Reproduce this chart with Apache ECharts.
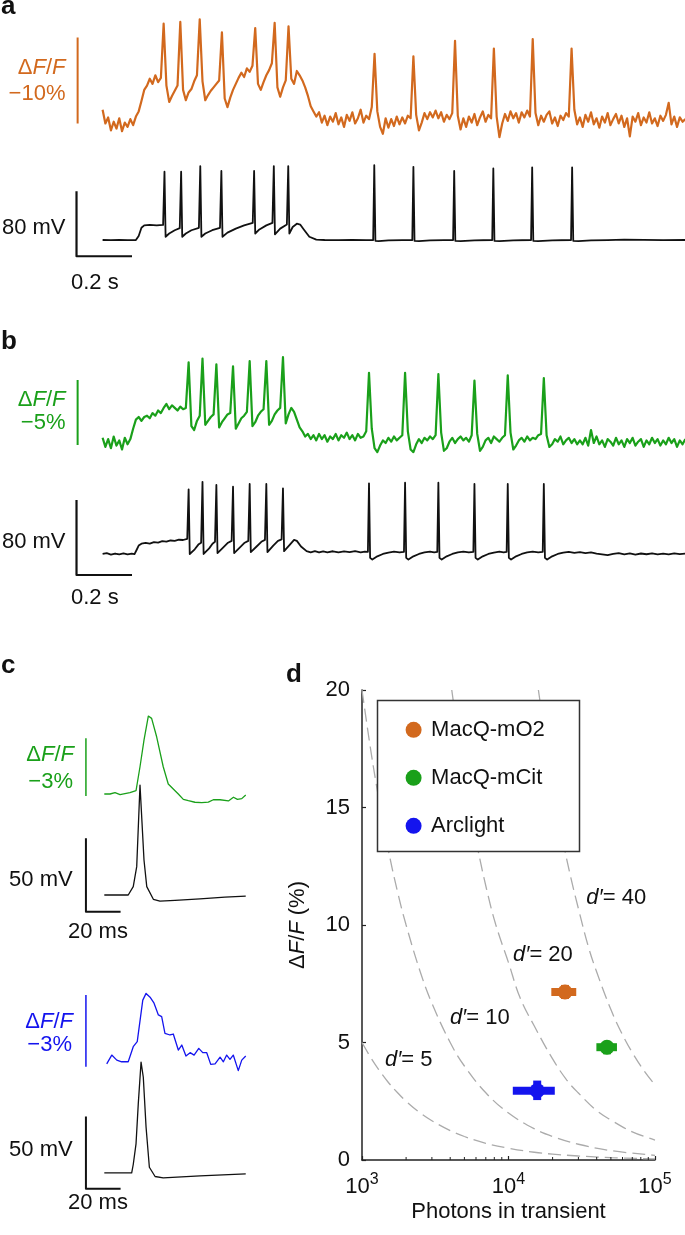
<!DOCTYPE html>
<html><head><meta charset="utf-8">
<script src="https://cdn.jsdelivr.net/npm/echarts/dist/echarts.min.js"></script>
<style>html,body{margin:0;padding:0;background:#fff}#c{width:685px;height:1235px}</style>
</head><body><div id="c"></div>
<script>
// ---------------- DATA ----------------
const tStepMs = 10; // sampling of the fluorescence traces in panels a, b (ms)
// Panel a: MacQ-mO2, -dF/F (%) sampled every 10 ms, t = 0 .. 2100 ms
const orangeDFF = [
 1.2,-0.4,0.3,-1.2,-0.2,-1.0,0.2,-1.3,-0.3,-0.8,
 0.1,-0.6,0.4,1.0,2.2,3.5,4.0,4.8,4.2,5.2,
 4.4,4.9,11.2,4.0,2.1,2.8,3.4,4.0,11.4,3.5,
 2.3,3.2,3.6,4.5,5.2,11.7,4.5,2.3,2.9,3.4,
 3.8,4.2,4.6,10.2,2.5,1.5,2.6,3.5,4.2,4.9,
 5.5,5.0,6.0,5.6,6.3,10.7,4.2,3.5,4.4,5.2,
 5.8,6.6,11.3,3.8,2.7,3.8,4.6,10.9,4.8,4.2,
 5.7,5.2,4.6,3.8,2.8,1.6,1.0,0.4,0.9,-0.3,
 0.5,-0.6,0.4,-0.2,0.8,-0.5,0.3,-0.8,0.6,-0.1,
 0.9,-0.4,0.2,1.2,-0.3,0.5,0.1,1.5,7.7,1.0,
 -0.8,-1.6,0.2,-0.9,0.1,-0.7,0.4,-0.5,0.3,-0.4,
 0.5,0.2,7.4,0.6,-1.2,-0.3,0.8,0.1,0.9,0.3,
 1.1,0.2,0.9,-0.2,0.6,0.1,0.8,9.2,0.5,-1.1,
 0.2,-0.8,0.4,-0.3,0.7,-0.6,0.3,1.0,-0.2,0.6,
 0.2,8.3,0.4,-2.0,-0.4,0.7,-0.1,1.0,0.2,0.8,
 -0.3,0.9,0.3,1.1,0.4,9.4,0.8,-0.6,0.5,-0.2,
 0.6,1.0,-0.4,0.3,-0.7,0.5,0.0,0.8,0.4,8.3,
 1.2,-0.5,0.3,-0.8,0.6,-0.2,0.9,-0.5,0.2,-0.9,
 0.4,-0.3,0.8,-0.6,0.1,0.7,-0.4,0.5,-0.8,0.2,
 -1.9,0.4,-0.2,0.8,-0.6,0.3,-0.3,0.9,-0.4,0.2,
 -0.7,0.5,-0.1,0.6,2.0,-0.5,0.4,-0.8,0.3,-0.2,
 0.1
];
// Panel a: membrane potential [t ms, mV]
const vmA = [
 [0,-70],[30,-70.3],[60,-69.8],[90,-70.2],[120,-70],[130,-65],[140,-55],[150,-52],[170,-51.5],[195,-52],[218,-51.5],
 [223,14],[227,-66],[240,-62],[260,-58],[278,-55.5],
 [283,14],[287,-66],[300,-62],[320,-58],[347,-55],
 [352,21],[356,-66],[370,-62],[395,-58],[423,-55],
 [428,15],[432,-66],[450,-61],[480,-56],[510,-52],[541,-49],
 [546,15],[550,-62],[565,-57],[590,-52],[612,-49],
 [617,21],[621,-63],[640,-56],[664,-51],
 [669,21],[673,-62],[685,-54],[700,-50],[712,-51],[725,-57],[745,-66],[770,-69.5],[800,-70],[850,-70.3],[900,-69.8],[950,-70.1],[975,-70],
 [979,22],[983,-71],[995,-71.5],[1030,-70.6],[1080,-70.2],[1116,-70],
 [1120,20],[1124,-71],[1140,-71.5],[1180,-70.6],[1230,-70.2],[1263,-70],
 [1267,15],[1271,-71],[1290,-71.5],[1340,-70.5],[1404,-70],
 [1408,18],[1412,-71],[1430,-71.5],[1480,-70.5],[1544,-70],
 [1548,19.5],[1552,-71],[1570,-71.5],[1620,-70.5],[1688,-70],
 [1692,19.5],[1696,-71],[1715,-71.5],[1760,-70.6],[1820,-70.1],[1880,-69.5],[1950,-69.8],[2020,-70.1],[2100,-70]
];
// Panel b: MacQ-mCit, -dF/F (%) sampled every 10 ms
const greenDFF = [
 0.3,-0.4,0.2,-0.5,0.4,-0.3,0.1,-0.6,0.3,-0.2,
 0.2,1.0,1.7,1.9,1.6,1.9,2.0,1.8,2.2,2.0,
 2.4,2.2,2.6,2.9,2.5,2.8,2.6,2.4,2.7,2.5,
 2.6,6.1,1.2,0.9,1.6,2.0,6.4,1.3,1.6,1.9,
 2.1,5.95,1.1,1.5,1.8,2.1,2.2,5.8,1.0,1.4,
 1.8,2.0,2.3,6.2,1.2,1.5,2.0,2.3,2.5,6.2,
 1.3,1.6,2.1,2.4,2.6,6.5,1.4,2.1,2.6,2.3,
 1.7,1.1,0.8,0.4,0.6,0.2,0.5,0.1,0.6,0.2,
 0.5,0.0,0.4,0.2,0.6,0.1,0.5,0.3,0.7,0.2,
 0.5,0.1,0.6,0.3,0.4,0.8,5.3,1.0,-0.5,-0.8,
 -0.3,0.1,-0.1,0.3,0.0,0.4,0.1,0.3,0.5,5.3,
 0.8,-0.6,-0.8,-0.2,0.2,-0.1,0.3,0.1,0.4,0.2,
 0.5,5.2,0.7,-0.7,-0.5,0.0,0.3,-0.1,0.2,0.4,
 0.1,0.3,0.0,0.5,4.7,0.6,-0.7,-0.4,0.1,0.3,
 -0.1,0.4,0.2,0.0,0.3,0.5,5.1,0.7,-0.6,-0.3,
 0.1,0.3,0.0,0.4,0.1,0.3,0.2,0.5,0.6,4.9,
 0.5,-0.4,-0.2,0.2,0.0,0.4,-0.2,0.1,0.3,-0.1,
 0.2,-0.2,0.1,-0.2,0.3,-0.3,0.9,-0.1,0.4,-0.2,
 0.1,-0.4,0.2,0.0,-0.3,0.3,-0.2,0.1,-0.4,0.2,
 -0.1,0.3,-0.3,0.0,0.2,-0.4,0.1,-0.2,0.3,-0.1,
 0.2,-0.3,0.1,-0.2,0.3,-0.1,0.2,-0.4,0.1,-0.2,
 0.2
];
// Panel b: membrane potential [t ms, mV]
const vmB = [
 [0,-70],[15,-69.2],[30,-70.6],[45,-69.5],[60,-70.4],[75,-69.4],[90,-70.5],[105,-69.7],[115,-70.2],[122,-66],[130,-61],[140,-59],[155,-58.2],[170,-59],[185,-57.4],[200,-57.8],[215,-56.4],[230,-56.9],[245,-55.6],[260,-56],[275,-54.8],[290,-55.1],[305,-53.8],
 [310,-1],[314,-70],[320,-71],[332,-65],[345,-60],[355,-58],
 [360,7],[364,-70],[370,-71],[384,-64],[396,-59],[405,-57],
 [410,3.6],[414,-69],[420,-70],[435,-63],[452,-58],[465,-56],
 [470,1.8],[474,-69],[480,-70],[495,-63],[512,-58],[525,-56],
 [530,4.7],[534,-68],[540,-69.5],[555,-62],[572,-57],[585,-55],
 [590,4.7],[594,-68],[600,-69],[615,-61],[632,-56],[645,-54.5],
 [650,0],[654,-67],[660,-68],[675,-60],[690,-55],[700,-56],[715,-62],[735,-67],[750,-68.3],[765,-67],[780,-68.4],[795,-67.2],[810,-68.2],[830,-67.1],[850,-68.3],[870,-67.3],[890,-68.1],[910,-67],[930,-68.2],[945,-67.4],[956,-67.8],
 [960,5.4],[964,-74],[972,-76],[990,-72.5],[1010,-70],[1030,-68.5],[1050,-67.6],[1070,-68.4],[1086,-67.8],
 [1090,6],[1094,-74],[1102,-76],[1120,-72.5],[1140,-70],[1160,-68.4],[1180,-67.5],[1195,-68.3],[1206,-67.8],
 [1210,6],[1214,-74],[1222,-76],[1240,-72.5],[1260,-70],[1280,-68.3],[1300,-67.6],[1320,-68.4],[1336,-67.8],
 [1340,4.7],[1344,-74],[1352,-76],[1370,-72.5],[1390,-70],[1410,-68.5],[1430,-67.6],[1445,-68.3],[1456,-67.8],
 [1460,4.7],[1464,-74],[1472,-76],[1490,-72.5],[1510,-70],[1530,-68.4],[1550,-67.5],[1570,-68.3],[1586,-67.8],
 [1590,4.7],[1594,-74],[1602,-76],[1620,-72.5],[1640,-70],[1660,-68.6],[1680,-67.8],[1700,-68.8],[1720,-68],[1740,-69],[1760,-68.2],[1780,-69.6],[1800,-70.4],[1820,-71.2],[1840,-70],[1860,-69.2],[1880,-70.4],[1900,-69.4],[1920,-70.6],[1940,-69.5],[1960,-70.3],[1980,-69.3],[2000,-70.5],[2020,-69.6],[2040,-70.4],[2060,-69.4],[2080,-70.2],[2100,-69.6]
];
// Panel c: single spikes [t ms, value]
const greenC = [[0,0],[3.3,0],[6.2,0.07],[9.1,-0.03],[11.9,0.02],[14.8,0.07],[18.3,0.17],[20.6,1.42],[22.9,2.81],[25.4,4.06],[27.3,3.94],[30.2,2.98],[34,1.42],[36.9,0.52],[39.8,0.26],[42.7,0],[45.6,-0.28],[48.5,-0.35],[52.3,-0.43],[56.2,-0.45],[60,-0.42],[62.9,-0.3],[66.8,-0.3],[71.6,-0.36],[74.5,-0.17],[76.8,-0.28],[79.3,-0.24],[81.6,-0.05]];
const vmC1 = [[0,-65],[13.8,-65],[16.7,-59.3],[18.7,-45.7],[20.6,9.8],[22.9,-41.2],[24.5,-59.3],[28.3,-67.9],[32.1,-69.1],[40.8,-68.7],[55.2,-67.7],[69.6,-66.5],[81.6,-65.7]];
const blueC = [[1.4,-0.08],[4.3,0.29],[7.2,0.08],[10,0.01],[13.8,0.01],[16.7,0.64],[19,0.85],[22.2,2.59],[24.1,2.87],[26.4,2.71],[28.7,2.46],[31.2,1.97],[33.1,1.9],[35,1.2],[37.9,1.13],[39.8,1.17],[42.7,0.5],[44.7,0.71],[47.1,0.25],[49.5,0.39],[51.8,0.29],[54.5,0.57],[56.8,0.39],[59.1,0.39],[61.4,-0.1],[63.9,-0.08],[66.8,0.2],[68.7,0.01],[70.6,0.29],[72.5,0.11],[74.4,0.29],[77.3,-0.36],[79.3,0.08],[81.6,0.25]];
const vmC2 = [[0,-65],[15.8,-65],[16.7,-59.2],[18.3,-45],[19.6,-17.3],[21.2,11.5],[22.5,1.1],[24.1,-33.5],[26,-61.1],[29.3,-67.5],[34,-68.5],[55.2,-67.1],[81.6,-65.7]];
// scale bars (data units of each panel)
const barAF = [[-90,-0.4],[-90,9.6]];            // 10 %
const barAV = [[-94,-10],[-94,-90],[106,-90]];    // 80 mV, 0.2 s
const barBF = [[-90,-0.25],[-90,4.75]];          // 5 %
const barBV = [[-94,-12.4],[-94,-92.4],[106,-92.4]];
const barC1F = [[-10.6,-0.1],[-10.6,2.9]];       // 3 %
const barC1V = [[-10.6,-26.4],[-10.6,-76.4],[9.4,-76.4]]; // 50 mV, 20 ms
const barC2F = [[-10.6,-0.2],[-10.6,2.8]];
const barC2V = [[-10.6,-26],[-10.6,-76],[9.4,-76]];
// Panel d
const indicators = ['MacQ-mO2','MacQ-mCit','Arclight'];
const photons   = [24300, 47000, 15700];
const photonsLo = [19600, 39800, 10700];
const photonsHi = [29000, 55000, 20700];
const dffPct    = [7.15, 4.8, 2.95];
const dffLo     = [6.85, 4.5, 2.55];
const dffHi     = [7.45, 5.05, 3.38];
const dPrimeLevels = [5, 10, 20, 40];
const curveD5  = [[1000,5.0],[1150,4.35],[1300,3.85],[1500,3.33],[1750,2.86],[2000,2.5],[2500,2.0],[3000,1.67],[4000,1.25],[5000,1.0],[7000,0.71],[10000,0.5],[15000,0.33],[20000,0.25],[30000,0.17],[50000,0.1],[100000,0.05]];
const curveD10 = [[1000,20],[1150,17.4],[1300,15.4],[1500,13.3],[1750,11.4],[2000,10.0],[2500,8.0],[3000,6.67],[4000,5.0],[5000,4.0],[7000,2.86],[10000,2.0],[15000,1.33],[20000,1.0],[30000,0.67],[50000,0.4],[100000,0.2]];
const curveD20 = [[4100,20],[4700,17.4],[5300,15.5],[6100,13.4],[7100,11.5],[8200,10.0],[10000,8.4],[12000,6.9],[15000,5.7],[20000,4.3],[25000,3.4],[30000,2.85],[40000,2.1],[50000,1.7],[70000,1.2],[100000,0.85]];
const curveD40 = [[16000,20],[18000,17.8],[20000,16.0],[23000,13.9],[26000,12.3],[30000,10.7],[35000,9.1],[40000,8.0],[50000,6.4],[60000,5.33],[70000,4.57],[85000,3.76],[100000,3.2]];
const dPrimeLabelPos = [[1435,4.26],[3980,6.03],[10740,8.72],[34000,11.14]];
const minorTicksX = [2000,3000,4000,5000,6000,7000,8000,9000,20000,30000,40000,50000,60000,70000,80000,90000];
const yTicksD = [0, 5, 10, 15, 20];

// ---------------- STYLE ----------------
const FONT = '"Liberation Sans", Arial, Helvetica, sans-serif';
const ORANGE = '#D2691E', GREEN = '#1AA01A', BLUE = '#1414EE', BLACK = '#111111', GRAY = '#ABABAB';
const colorsD = [ORANGE, GREEN, BLUE];

const grids = [
  {left:74.85, top:16.8,  width:610.5, height:129},    // 0 a F
  {left:74.85, top:158.75,width:610.5, height:105.6},  // 1 a V
  {left:74.85, top:337.7, width:610.5, height:130},    // 2 b F
  {left:74.85, top:474.3, width:610.5, height:107.8},  // 3 b V
  {left:83.5,  top:698,   width:166.4, height:115.2},  // 4 c1 F
  {left:83.5,  top:777.4, width:166.4, height:139.65}, // 5 c1 V
  {left:83.5,  top:966.4, width:166.4, height:119.5},  // 6 c2 F
  {left:83.5,  top:1049.9,width:166.4, height:144.7},  // 7 c2 V
  {left:362,   top:690,   width:293,   height:470}     // 8 d
].map(g => Object.assign({outerBoundsMode:'none', containLabel:false}, g));

const yRanges = [[-3,12],[-100,30],[-2,8],[-100,15],[-1,5],[-80,15],[-1,4],[-80,20]];
const xAxes = [], yAxes = [];
for (let i = 0; i < 8; i++) {
  const isC = i >= 4;
  xAxes.push({gridIndex:i, type:'value', min: isC ? -12 : -100, max: isC ? 84 : 2100, show:false});
  yAxes.push({gridIndex:i, type:'value', min: yRanges[i][0], max: yRanges[i][1], show:false});
}
xAxes.push({
  gridIndex:8, type:'log', logBase:10, min:1000, max:100000,
  axisLine:{show:true, lineStyle:{color:'#222', width:1.5}},
  axisTick:{show:true, inside:true, length:4, lineStyle:{color:'#222', width:1.2}},
  splitLine:{show:false}, minorTick:{show:false},
  axisLabel:{margin:12, formatter: v => '{b|10}{s|' + Math.round(Math.log10(v)) + '}',
    rich:{b:{fontSize:22, fontFamily:FONT, color:'#111', lineHeight:26, verticalAlign:'bottom'},
          s:{fontSize:16, fontFamily:FONT, color:'#111', lineHeight:16, verticalAlign:'top'}}},
  name:'Photons in transient', nameLocation:'middle', nameGap:41,
  nameTextStyle:{fontSize:22, fontFamily:FONT, color:'#111'}
});
yAxes.push({
  gridIndex:8, type:'value', min:yTicksD[0], max:yTicksD[yTicksD.length-1], interval:5,
  axisLine:{show:true, lineStyle:{color:'#222', width:1.5}},
  axisTick:{show:true, inside:true, length:4, lineStyle:{color:'#222', width:1.2}},
  splitLine:{show:false},
  axisLabel:{margin:12, fontSize:22, fontFamily:FONT, color:'#111'},
  name:'{n|Δ}{i|F}{n|/}{i|F}{n| (%)}', nameLocation:'middle', nameGap:53, nameRotate:90,
  nameTextStyle:{rich:{n:{fontSize:22, fontFamily:FONT, color:'#111'}, i:{fontSize:22, fontFamily:FONT, fontStyle:'italic', color:'#111'}}}
});

function lineSeries(i, data, color, width) {
  return {type:'line', xAxisIndex:i, yAxisIndex:i, data, showSymbol:false, symbol:'none',
    lineStyle:{color, width, join:'round'}, silent:true, animation:false, clip:false};
}
const sampled = arr => arr.map((v, k) => [k * tStepMs, v]);

const series = [
  lineSeries(0, sampled(orangeDFF), ORANGE, 2.2),
  lineSeries(0, barAF, ORANGE, 2),
  lineSeries(1, vmA, BLACK, 1.8),
  lineSeries(1, barAV, BLACK, 2.2),
  lineSeries(2, sampled(greenDFF), GREEN, 2.2),
  lineSeries(2, barBF, GREEN, 2),
  lineSeries(3, vmB, BLACK, 1.8),
  lineSeries(3, barBV, BLACK, 2.2),
  lineSeries(4, greenC, GREEN, 1.3),
  lineSeries(4, barC1F, GREEN, 1.5),
  lineSeries(5, vmC1, BLACK, 1.3),
  lineSeries(5, barC1V, BLACK, 2),
  lineSeries(6, blueC, BLUE, 1.3),
  lineSeries(6, barC2F, BLUE, 1.5),
  lineSeries(7, vmC2, BLACK, 1.3),
  lineSeries(7, barC2V, BLACK, 2)
];
[curveD5, curveD10, curveD20, curveD40].forEach(c => {
  series.push({type:'line', xAxisIndex:8, yAxisIndex:8, data:c, smooth:0.4, showSymbol:false, symbol:'none',
    lineStyle:{color:GRAY, width:1.3, type:[13,6]}, silent:true, animation:false, z:1});
});
// minor log ticks
series.push({type:'custom', xAxisIndex:8, yAxisIndex:8, data:minorTicksX.map(v => [v, 0]), silent:true, animation:false, z:5,
  renderItem:(params, api) => { const p = api.coord([api.value(0), 0]);
    return {type:'line', shape:{x1:p[0], y1:p[1], x2:p[0], y2:p[1]-3}, style:{stroke:'#222', lineWidth:1}}; }});
// error bars
series.push({type:'custom', xAxisIndex:8, yAxisIndex:8, silent:true, animation:false, z:3,
  data: indicators.map((n, k) => [photons[k], dffPct[k], photonsLo[k], photonsHi[k], dffLo[k], dffHi[k], k]),
  renderItem:(params, api) => {
    const c = colorsD[api.value(6)];
    const a = api.coord([api.value(2), api.value(1)]), b = api.coord([api.value(3), api.value(1)]);
    const u = api.coord([api.value(0), api.value(5)]), d = api.coord([api.value(0), api.value(4)]);
    return {type:'group', children:[
      {type:'line', shape:{x1:a[0], y1:a[1], x2:b[0], y2:b[1]}, style:{stroke:c, lineWidth:8, lineCap:'butt'}},
      {type:'line', shape:{x1:u[0], y1:u[1], x2:d[0], y2:d[1]}, style:{stroke:c, lineWidth:8, lineCap:'butt'}}
    ]};
  }});
indicators.forEach((n, k) => {
  series.push({type:'scatter', name:n, xAxisIndex:8, yAxisIndex:8, data:[[photons[k], dffPct[k]]],
    symbol:'circle', symbolSize:15, itemStyle:{color:colorsD[k], opacity:1}, silent:true, animation:false, z:4});
});
// d' labels
series.push({type:'scatter', xAxisIndex:8, yAxisIndex:8, data:dPrimeLabelPos, symbolSize:0, silent:true, animation:false, z:6,
  itemStyle:{opacity:1, color:'#111'},
  label:{show:true, position:'right', distance:0, color:'#111', opacity:1,
    formatter: p => '{i|d′}{n|= ' + dPrimeLevels[p.dataIndex] + '}',
    rich:{i:{fontSize:22, fontFamily:FONT, fontStyle:'italic', color:'#111'}, n:{fontSize:22, fontFamily:FONT, color:'#111'}}}});

// ---------------- TEXT ----------------
const richDFF = col => ({n:{fontSize:22, fontFamily:FONT, fill:col, color:col}, i:{fontSize:22, fontFamily:FONT, fontStyle:'italic', fill:col, color:col}});
function T(x, y, text, o) {
  return {type:'text', x, y, z:10, silent:true, style:Object.assign({text, fontSize:22, fontFamily:FONT, fill:'#111', align:'left', verticalAlign:'middle'}, o || {})};
}
const DFF = '{n|Δ}{i|F}{n|/}{i|F}';
const graphics = [
  T(1, 7, 'a', {fontWeight:'bold', fontSize:26}),
  T(1, 342, 'b', {fontWeight:'bold', fontSize:26}),
  T(1, 666, 'c', {fontWeight:'bold', fontSize:26}),
  T(286, 675, 'd', {fontWeight:'bold', fontSize:26}),
  T(65.5, 68, DFF, {align:'right', rich:richDFF(ORANGE), fill:ORANGE}),
  T(65.5, 94, '−10%', {align:'right', fill:ORANGE}),
  T(65.5, 228, '80 mV', {align:'right'}),
  T(71, 283, '0.2 s'),
  T(65.5, 400, DFF, {align:'right', rich:richDFF(GREEN), fill:GREEN}),
  T(65.5, 423.3, '−5%', {align:'right', fill:GREEN}),
  T(65.5, 541.7, '80 mV', {align:'right'}),
  T(71, 598.3, '0.2 s'),
  T(74, 755, DFF, {align:'right', rich:richDFF(GREEN), fill:GREEN}),
  T(73, 781.7, '−3%', {align:'right', fill:GREEN}),
  T(72.7, 880, '50 mV', {align:'right'}),
  T(68, 931.7, '20 ms'),
  T(73, 1021.7, DFF, {align:'right', rich:richDFF(BLUE), fill:BLUE}),
  T(72, 1045, '−3%', {align:'right', fill:BLUE}),
  T(72.7, 1150, '50 mV', {align:'right'}),
  T(68, 1202.7, '20 ms'),
  {type:'rect', z:3, silent:true, shape:{x:377.5, y:700.5, width:202, height:151}, style:{fill:'#fff', stroke:'#333', lineWidth:1.5}}
];

const chart = echarts.init(document.getElementById('c'), null, {renderer:'canvas'});
chart.setOption({
  animation:false,
  backgroundColor:'#fff',
  grid:grids, xAxis:xAxes, yAxis:yAxes, series,
  legend:{data:indicators, orient:'vertical', left:405.6, top:718.8, padding:0, itemGap:26,
    itemWidth:25, itemHeight:16, icon:'circle', selectedMode:false, z:20,
    textStyle:{fontSize:22, fontFamily:FONT, color:'#111'}},
  graphic:{elements:graphics}
});
</script></body></html>
